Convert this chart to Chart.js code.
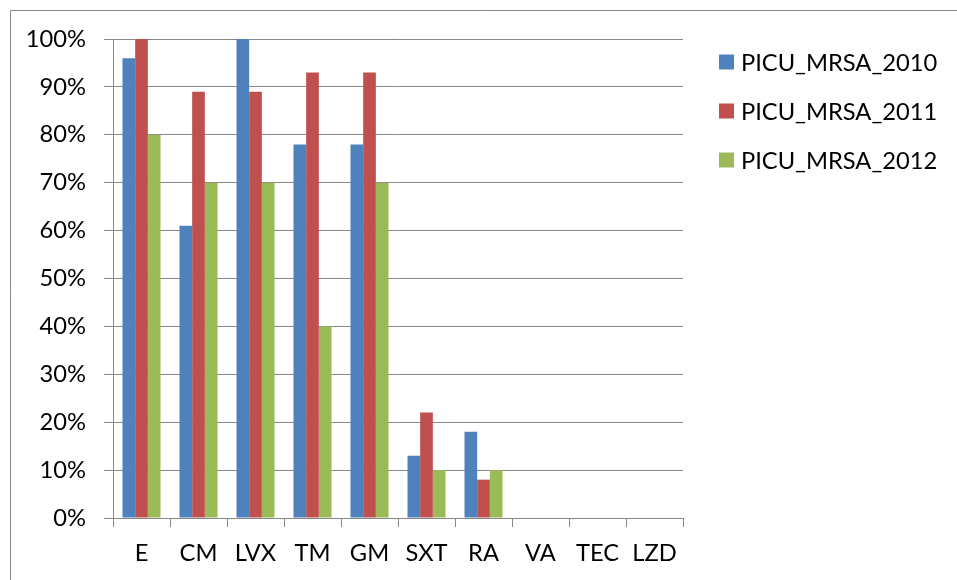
<!DOCTYPE html>
<html>
<head>
<meta charset="utf-8">
<script src="https://cdn.jsdelivr.net/npm/chart.js@4/dist/chart.umd.min.js"></script>
<style>
  html, body { margin: 0; padding: 0; background: #fff; }
  #wrap { position: relative; width: 957px; height: 580px; }
  canvas { display: block; }
</style>
</head>
<body>
<div id="wrap"><canvas id="c" width="957" height="580"></canvas></div>
<script>
// Antibiotic agents on the x axis
const categories = ['E', 'CM', 'LVX', 'TM', 'GM', 'SXT', 'RA', 'VA', 'TEC', 'LZD'];
// Resistance rates (%) per year
const mrsa2010 = [96, 61, 100, 78, 78, 13, 18, 0, 0, 0];
const mrsa2011 = [100, 89, 89, 93, 93, 22, 8, 0, 0, 0];
const mrsa2012 = [80, 70, 70, 40, 70, 10, 10, 0, 0, 0];
const seriesNames = ['PICU_MRSA_2010', 'PICU_MRSA_2011', 'PICU_MRSA_2012'];
const yTicks = [0, 10, 20, 30, 40, 50, 60, 70, 80, 90, 100];

const FONT = 'Lato, "DejaVu Sans", sans-serif';
const FONT_SIZE = 23.7;
const GRID = '#878787';
const colors = ['#4F81BD', '#C0504D', '#9BBB59'];

// Frame lines along the top and left edge of the chart box
const framePlugin = {
  id: 'frame',
  beforeDraw(chart) {
    const ctx = chart.ctx;
    ctx.save();
    ctx.fillStyle = '#fff';
    ctx.fillRect(0, 0, chart.width, chart.height);
    ctx.strokeStyle = GRID;
    ctx.lineWidth = 1;
    ctx.beginPath();
    ctx.moveTo(10.5, chart.height);
    ctx.lineTo(10.5, 10.5);
    ctx.lineTo(chart.width, 10.5);
    ctx.stroke();
    ctx.restore();
  }
};

// Legend on the right, one entry per dataset
const sideLegend = {
  id: 'sideLegend',
  afterDraw(chart) {
    const ctx = chart.ctx;
    ctx.save();
    ctx.font = FONT_SIZE + 'px ' + FONT;
    ctx.textBaseline = 'middle';
    chart.data.datasets.forEach((ds, i) => {
      const cy = 62 + i * 49;
      ctx.fillStyle = ds.backgroundColor;
      ctx.fillRect(719, cy - 7.5, 15, 15);
      ctx.fillStyle = '#000';
      ctx.fillText(ds.label, 741, cy + 1);
    });
    ctx.restore();
  }
};

new Chart(document.getElementById('c'), {
  type: 'bar',
  data: {
    labels: categories,
    datasets: [
      { label: seriesNames[0], data: mrsa2010, backgroundColor: colors[0] },
      { label: seriesNames[1], data: mrsa2011, backgroundColor: colors[1] },
      { label: seriesNames[2], data: mrsa2012, backgroundColor: colors[2] }
    ]
  },
  options: {
    responsive: false,
    animation: false,
    devicePixelRatio: 1,
    layout: { padding: { left: 0, top: 39, right: 274, bottom: 0 } },
    datasets: { bar: { categoryPercentage: 0.667, barPercentage: 1.0, borderWidth: 0 } },
    plugins: {
      legend: { display: false },
      tooltip: { enabled: false }
    },
    scales: {
      x: {
        afterFit(s) { s.height = 62; },
        grid: {
          offset: true,
          drawOnChartArea: false,
          drawTicks: true,
          tickLength: 9,
          color: GRID,
          lineWidth: 1
        },
        border: { color: GRID, width: 1 },
        ticks: {
          color: '#000',
          font: { family: FONT, size: FONT_SIZE },
          padding: 12,
          maxRotation: 0,
          autoSkip: false
        }
      },
      y: {
        min: 0,
        max: 100,
        afterFit(s) { s.width = 113; },
        afterBuildTicks(s) { s.ticks = yTicks.map(v => ({ value: v })); },
        grid: {
          color: GRID,
          lineWidth: 1,
          drawTicks: true,
          tickLength: 9
        },
        border: { color: GRID, width: 1 },
        ticks: {
          color: '#000',
          font: { family: FONT, size: FONT_SIZE },
          padding: 18,
          callback: v => v + '%'
        }
      }
    }
  },
  plugins: [framePlugin, sideLegend]
});
</script>
</body>
</html>
